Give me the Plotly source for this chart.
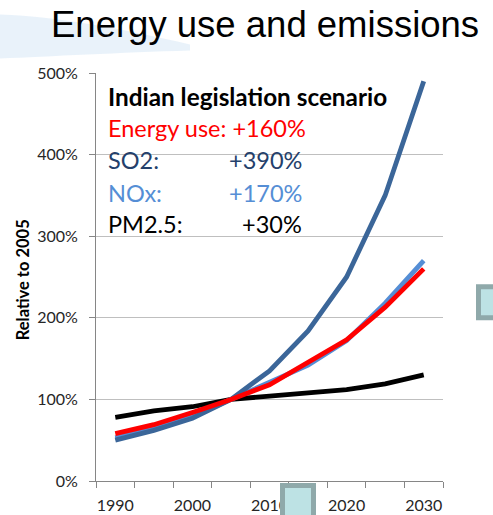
import plotly.graph_objects as go

# Scenario values, % of the 2005 level
years = ["1990", "1995", "2000", "2005", "2010", "2015", "2020", "2025", "2030"]
year_labels = ["1990", "", "2000", "", "2010", "", "2020", "", "2030"]
energy_use = [58, 69, 84, 100, 118, 145, 173, 213, 260]
so2 = [50, 62, 77, 100, 135, 184, 250, 350, 490]
nox = [53, 64, 79, 100, 120, 142, 172, 218, 270]
pm25 = [78, 86, 91, 100, 104, 108, 112, 119, 130]
y_ticks = [0, 100, 200, 300, 400, 500]

# Summary block: (label, change, colour, row centre in px)
summary = [
    ("SO2:", "+390%", "#24406B", 160),
    ("NOx:", "+170%", "#558ED5", 192.5),
    ("PM2.5:", "+30%", "#000000", 224),
]

W, H = 493, 515
L, R, T, B = 96, 443, 72.5, 481  # plot area in px
TXT = 23.5


def px(x):
    return (x - L) / (R - L)


def py(y):
    return (B - y) / (B - T)


fig = go.Figure()
series = [
    ("PM2.5", pm25, "#000000"),
    ("NOx", nox, "#558ED5"),
    ("SO2", so2, "#3B6699"),
    ("Energy use", energy_use, "#FF0000"),
]
for name, vals, col in series:
    fig.add_trace(go.Scatter(
        x=years, y=vals, name=name, mode="lines",
        line=dict(color=col, width=4.8), showlegend=False,
    ))

ann = []
ann.append(dict(text="Energy use and emissions", x=px(265), y=py(24),
                xref="paper", yref="paper", showarrow=False,
                xanchor="center", yanchor="middle",
                font=dict(family="Liberation Sans, Arial", size=36.5, color="#000000")))
ann.append(dict(text="<b>Indian legislation scenario</b>", x=px(106), y=py(96),
                xref="paper", yref="paper", showarrow=False,
                xanchor="left", yanchor="middle",
                font=dict(family="Lato", size=24.3, color="#000000")))
ann.append(dict(text="Energy use: +160%", x=px(106), y=py(128),
                xref="paper", yref="paper", showarrow=False,
                xanchor="left", yanchor="middle",
                font=dict(family="Lato", size=TXT, color="#FF0000")))
for label, val, col, yc in summary:
    ann.append(dict(text=label, x=px(106), y=py(yc), xref="paper", yref="paper",
                    showarrow=False, xanchor="left", yanchor="middle",
                    font=dict(family="Lato", size=TXT, color=col)))
    ann.append(dict(text=val, x=px(304), y=py(yc), xref="paper", yref="paper",
                    showarrow=False, xanchor="right", yanchor="middle",
                    font=dict(family="Lato", size=TXT, color=col)))
ann.append(dict(text="<b>Relative to 2005</b>", x=px(23), y=py(280),
                xref="paper", yref="paper", showarrow=False, textangle=-90,
                xanchor="center", yanchor="middle",
                font=dict(family="Lato", size=16.5, color="#000000")))


def rect_path(x0, y0, x1, y1):
    return (f"M {px(x0)} {py(y0)} L {px(x1)} {py(y0)} "
            f"L {px(x1)} {py(y1)} L {px(x0)} {py(y1)} Z")


shapes = [
    # faint header swoosh
    dict(type="path", xref="paper", yref="paper", layer="below",
         path=(f"M {px(0)} {py(14)} C {px(60)} {py(16)} {px(130)} {py(30)} {px(190)} {py(44)} "
               f"L {px(190)} {py(50)} C {px(120)} {py(52)} {px(50)} {py(56)} {px(0)} {py(58)} Z"),
         fillcolor="rgba(226,238,248,0.75)", line=dict(width=0)),
    # slide decoration squares
    dict(type="path", xref="paper", yref="paper", layer="above",
         path=rect_path(282.5, 485.5, 313.5, 535),
         fillcolor="#BDE2E4", line=dict(color="#8FA9AA", width=5)),
    dict(type="path", xref="paper", yref="paper", layer="above",
         path=rect_path(478.5, 286.5, 515, 317.5),
         fillcolor="#BDE2E4", line=dict(color="#8FA9AA", width=5)),
]

fig.update_layout(
    width=W, height=H,
    margin=dict(l=L, r=W - R, t=T, b=H - B),
    paper_bgcolor="#FFFFFF", plot_bgcolor="#FFFFFF",
    annotations=ann, shapes=shapes,
    xaxis=dict(
        type="category", tickmode="array", tickvals=years, ticktext=year_labels,
        range=[-0.5, len(years) - 0.5], tickangle=0, automargin=False,
        tickson="boundaries", ticks="outside", ticklen=6, tickcolor="#868686",
        showline=True, linecolor="#868686", linewidth=1, showgrid=False,
        tickfont=dict(family="Lato", size=16, color="#262626"),
        ticklabelstandoff=10, fixedrange=True,
    ),
    yaxis=dict(
        range=[0, 500], tickmode="array", tickvals=y_ticks,
        ticktext=[f"{v}%" for v in y_ticks], automargin=False,
        ticks="outside", ticklen=6, tickcolor="#868686",
        showline=True, linecolor="#868686", linewidth=1,
        showgrid=True, gridcolor="#BFBFBF", gridwidth=1, zeroline=False,
        tickfont=dict(family="Lato", size=16, color="#262626"),
        ticklabelstandoff=8, fixedrange=True,
    ),
)

fig.write_html("out.html")
